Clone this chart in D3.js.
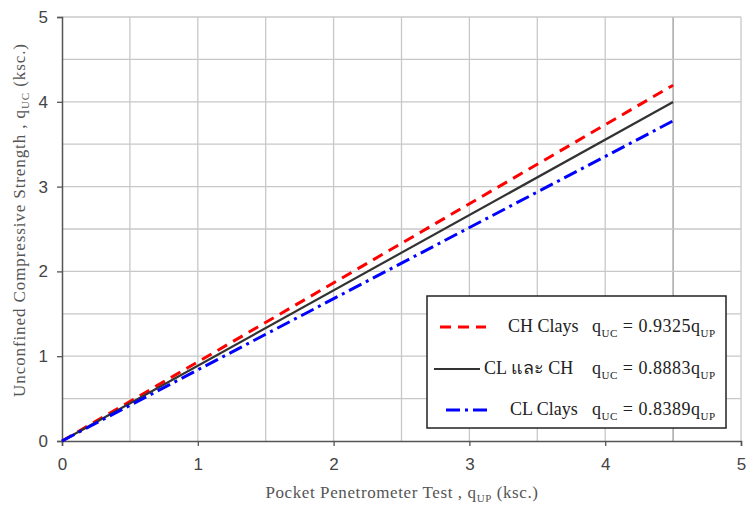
<!DOCTYPE html>
<html>
<head>
<meta charset="utf-8">
<script src="https://cdn.jsdelivr.net/npm/d3@7"></script>
<style>
body { margin: 0; background: #fff; }
svg { display: block; }
</style>
</head>
<body>
<svg id="chart" width="749" height="509"></svg>
<script>
var svg = d3.select("#chart");

// chart data
const xTicks = [0, 1, 2, 3, 4, 5];
const yTicks = [0, 1, 2, 3, 4, 5];
const gridSteps = [0.5, 1, 1.5, 2, 2.5, 3, 3.5, 4, 4.5, 5];
const qUP = [0, 4.5];
const chClays = [0, 4.196];
const clAndCh = [0, 3.997];
const clClays = [0, 3.775];
const seriesNames = ["CH Clays", "CL และ CH", "CL Clays"];
const seriesCoef = ["0.9325", "0.8883", "0.8389"];

// plot area
const plotLeft = 62, plotRight = 741, plotTop = 17, plotBottom = 441;

var x = d3.scaleLinear().domain([0, 5]).range([plotLeft, plotRight]);
var y = d3.scaleLinear().domain([0, 5]).range([plotBottom, plotTop]);

// grid
svg.append("g").selectAll("line")
    .data(gridSteps).enter().append("line")
    .attr("x1", d => x(d)).attr("x2", d => x(d))
    .attr("y1", plotTop).attr("y2", plotBottom)
    .style("stroke", d => d == 4.5 ? "#9a9a9a" : "#c8c8c8")
    .style("stroke-width", 1.3);
svg.append("g").selectAll("line")
    .data(gridSteps).enter().append("line")
    .attr("x1", plotLeft).attr("x2", plotRight)
    .attr("y1", d => y(d)).attr("y2", d => y(d))
    .style("stroke", "#c8c8c8")
    .style("stroke-width", 1.3);

// axes
var bottomAxis = d3.axisBottom(x).tickValues(xTicks).tickFormat(d3.format("d")).tickSize(5).tickPadding(12);
var gx = svg.append("g")
    .attr("transform", "translate(0," + plotBottom + ")")
    .call(bottomAxis);
var leftAxis = d3.axisLeft(y).tickValues(yTicks).tickFormat(d3.format("d")).tickSize(5).tickPadding(9);
var gy = svg.append("g")
    .attr("transform", "translate(" + plotLeft + ",0)")
    .call(leftAxis);
[gx, gy].forEach(g => {
    g.select(".domain").style("stroke", "#555").style("stroke-width", 1.5);
    g.selectAll(".tick line").style("stroke", "#555").style("stroke-width", 1.3);
    g.selectAll(".tick text")
        .style("font-family", "Liberation Sans, Arial, sans-serif")
        .style("font-size", "17px")
        .style("fill", "#444");
});

// series lines
var line = d3.line().x((d, i) => x(qUP[i])).y(d => y(d));
var series = [
    { values: chClays, color: "#ff0000", width: 3, dash: "11,7" },
    { values: clAndCh, color: "#333333", width: 2.2, dash: null },
    { values: clClays, color: "#0000ff", width: 3, dash: "14,5,3,5" }
];
series.forEach(s => {
    svg.append("path")
        .datum(s.values)
        .attr("d", line)
        .style("fill", "none")
        .style("stroke", s.color)
        .style("stroke-width", s.width)
        .style("stroke-dasharray", s.dash);
});

// axis titles
const serif = "Liberation Serif, Times New Roman, serif";
var xt = svg.append("text")
    .attr("x", 402).attr("y", 498)
    .attr("text-anchor", "middle")
    .style("font-family", serif).style("font-size", "17px")
    .style("letter-spacing", "0.6px").style("fill", "#555");
xt.append("tspan").text("Pocket Penetrometer Test , q");
xt.append("tspan").attr("dy", 4).style("font-size", "11px").text("UP");
xt.append("tspan").attr("dy", -4).text(" (ksc.)");

var yt = svg.append("text")
    .attr("transform", "translate(25,220)rotate(-90)")
    .attr("text-anchor", "middle")
    .style("font-family", serif).style("font-size", "17px")
    .style("letter-spacing", "0.9px").style("fill", "#555");
yt.append("tspan").text("Unconfined Compressive Strength , q");
yt.append("tspan").attr("dy", 4).style("font-size", "11px").text("UC");
yt.append("tspan").attr("dy", -4).text(" (ksc.)");

// legend
var lg = svg.append("g");
lg.append("rect")
    .attr("x", 427).attr("y", 296).attr("width", 299).attr("height", 132)
    .style("fill", "#fff").style("stroke", "#222").style("stroke-width", 1.5);

var rows = [
    { y: 327, x1: 440, x2: 486, tx: 508 },
    { y: 369, x1: 434, x2: 480, tx: 484 },
    { y: 410, x1: 446, x2: 492, tx: 510 }
];
rows.forEach((r, i) => {
    lg.append("line")
        .attr("x1", r.x1).attr("x2", r.x2).attr("y1", r.y).attr("y2", r.y)
        .style("stroke", series[i].color)
        .style("stroke-width", series[i].width)
        .style("stroke-dasharray", series[i].dash);
    lg.append("text")
        .attr("x", r.tx).attr("y", r.y + 5)
        .style("font-family", serif + ", Noto Sans, DejaVu Sans")
        .style("font-size", "18px").style("fill", "#222")
        .text(seriesNames[i]);
    var eq = lg.append("text")
        .attr("x", 592).attr("y", r.y + 5)
        .style("font-family", serif).style("font-size", "18px")
        .style("letter-spacing", "0.5px").style("fill", "#222");
    eq.append("tspan").text("q");
    eq.append("tspan").attr("dy", 5).style("font-size", "11px").text("UC");
    eq.append("tspan").attr("dy", -5).text(" = " + seriesCoef[i] + "q");
    eq.append("tspan").attr("dy", 5).style("font-size", "11px").text("UP");
});
</script>
</body>
</html>
